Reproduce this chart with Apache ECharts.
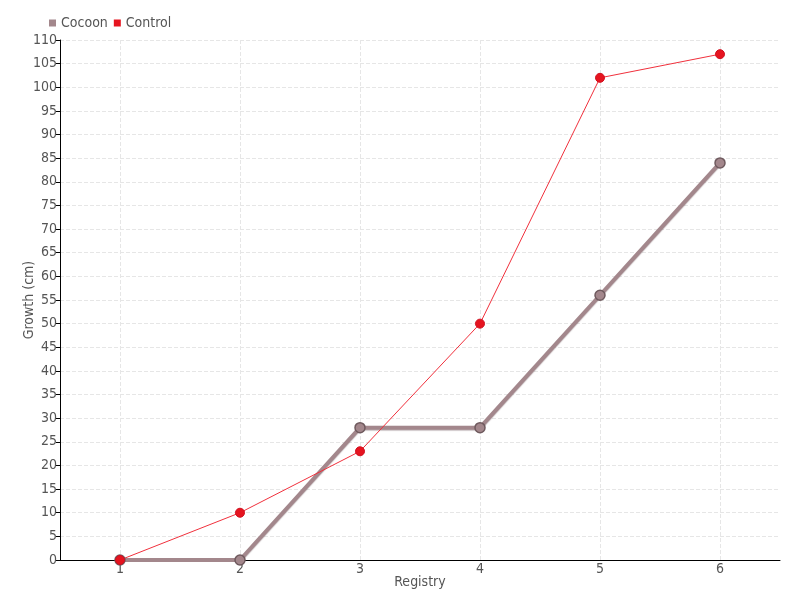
<!DOCTYPE html>
<html><head><meta charset="utf-8">
<script src="https://cdn.jsdelivr.net/npm/echarts@6/dist/echarts.min.js"></script>
<style>html,body{margin:0;padding:0;background:#fff}#c{width:800px;height:600px}</style>
</head><body><div id="c"></div>
<script>
const categories = ['1','2','3','4','5','6'];
const cocoon = [0, 0, 28, 28, 56, 84];
const control = [0, 10, 23, 50, 102, 107];
const FONT = "'DejaVu Sans Condensed','Liberation Sans Narrow','Roboto',sans-serif";
const chart = echarts.init(document.getElementById('c'), null, {renderer:'canvas'});
chart.setOption({
  backgroundColor:'#fff',
  textStyle:{fontFamily:FONT},
  legend:{left:44, top:11, itemWidth:7, itemHeight:7, itemGap:6, icon:'rect',
    itemStyle:{borderWidth:0},
    textStyle:{fontFamily:FONT, fontSize:14, color:'#555'},
    data:['Cocoon','Control']},
  grid:{left:60, right:20, top:40, bottom:40, containLabel:false},
  xAxis:{type:'category', data:categories, boundaryGap:true,
    name:'Registry', nameLocation:'middle', nameGap:15, nameMoveOverlap:false,
    nameTextStyle:{fontFamily:FONT, fontSize:14, color:'#555', verticalAlign:'top'},
    axisLine:{lineStyle:{color:'#000', width:1}},
    axisTick:{alignWithLabel:true, length:3, lineStyle:{color:'#000'}},
    axisLabel:{margin:2, fontFamily:FONT, fontSize:14, color:'#555'},
    splitLine:{show:true, alignWithLabel:true, lineStyle:{color:'#e6e6e6', type:'dashed'}}
  },
  yAxis:{type:'value', min:0, max:110, interval:5,
    name:'Growth (cm)', nameLocation:'middle', nameGap:24, nameMoveOverlap:false,
    nameTextStyle:{fontFamily:FONT, fontSize:14, color:'#555'},
    axisLine:{show:true, lineStyle:{color:'#000', width:1}},
    axisTick:{show:true, length:4, lineStyle:{color:'#000'}},
    axisLabel:{margin:3, fontFamily:FONT, fontSize:14, color:'#555'},
    splitLine:{show:true, lineStyle:{color:'#e6e6e6', type:'dashed'}}
  },
  series:[
    {name:'Cocoon', type:'line', data:cocoon, symbol:'circle', symbolSize:10,
      color:'#a3878c',
      lineStyle:{width:4, color:'#a3878c', shadowColor:'rgba(90,60,65,0.35)', shadowBlur:1, shadowOffsetY:1},
      itemStyle:{color:'#a3878c', borderColor:'#6f5a5e', borderWidth:1.5}},
    {name:'Control', type:'line', data:control, symbol:'circle', symbolSize:9,
      color:'#e6141f',
      lineStyle:{width:1, color:'#f0303c'},
      itemStyle:{color:'#e6141f', borderColor:'#d01020', borderWidth:1}}
  ],
  animation:false
});
</script></body></html>
